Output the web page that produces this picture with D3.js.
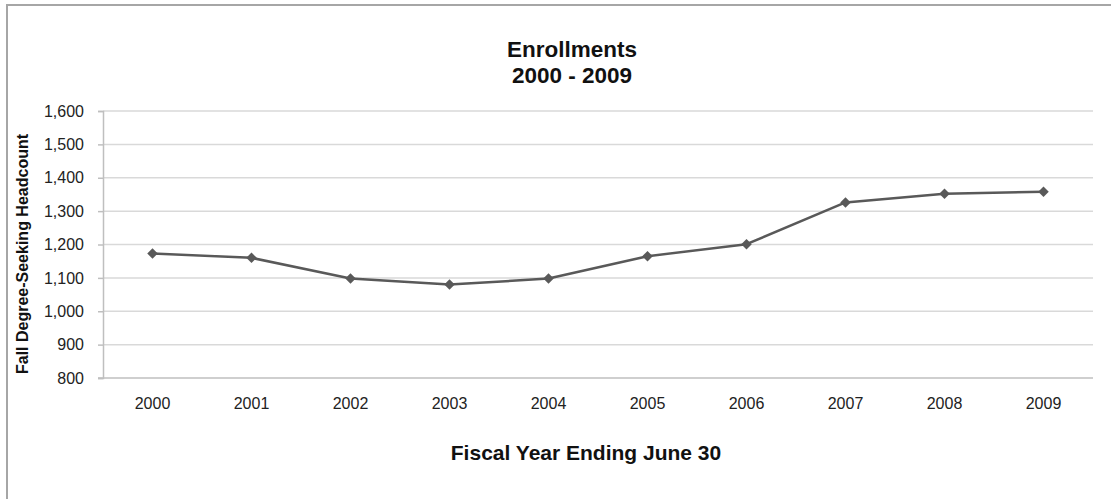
<!DOCTYPE html>
<html>
<head>
<meta charset="utf-8">
<script src="https://cdn.jsdelivr.net/npm/d3@7/dist/d3.min.js"></script>
<style>
  html, body { margin: 0; padding: 0; background: #fff; }
  svg { display: block; }
  text { font-family: "Liberation Sans", Arial, sans-serif; }
</style>
</head>
<body>
<svg id="chart" width="1111" height="499"></svg>
<script>
const years = ["2000","2001","2002","2003","2004","2005","2006","2007","2008","2009"];
const headcount = [1173, 1160, 1098, 1080, 1098, 1165, 1201, 1326, 1352, 1358];
const yTicks = [800, 900, 1000, 1100, 1200, 1300, 1400, 1500, 1600];
const titleLines = ["Enrollments", "2000 - 2009"];
const xTitle = "Fiscal Year Ending June 30";
const yTitle = "Fall Degree-Seeking Headcount";

const svg = d3.select("#chart");

// chart border (extends beyond right/bottom edge)
svg.append("rect")
  .attr("x", 7).attr("y", 5)
  .attr("width", 1140).attr("height", 520)
  .attr("fill", "#fff").attr("stroke", "#a6a6a6").attr("stroke-width", 2);

const pLeft = 103, pRight = 1093, pTop = 111, pBottom = 378;

const x = d3.scaleBand().domain(years).range([pLeft, pRight]);
const y = d3.scaleLinear().domain([800, 1600]).range([pBottom, pTop]);

// gridlines
svg.append("g").selectAll("line").data(yTicks.filter(d => d > 800)).join("line")
  .attr("x1", pLeft).attr("x2", pRight)
  .attr("y1", d => y(d)).attr("y2", d => y(d))
  .attr("stroke", "#d9d9d9").attr("stroke-width", 1.5);

// y axis
const yAxis = svg.append("g").attr("transform", `translate(${pLeft},0)`)
  .call(d3.axisLeft(y).tickValues(yTicks).tickSize(5).tickPadding(14).tickFormat(d3.format(",")));
yAxis.select(".domain").attr("stroke", "#bfbfbf").attr("stroke-width", 1.5);
yAxis.selectAll(".tick line").attr("stroke", "#bfbfbf").attr("stroke-width", 1.5);
yAxis.selectAll("text").attr("font-size", 16).attr("fill", "#222")
  .attr("font-family", "Liberation Sans, Arial, sans-serif");

// x axis
const xAxis = svg.append("g").attr("transform", `translate(0,${pBottom})`)
  .call(d3.axisBottom(x).tickSize(0).tickPadding(20));
xAxis.select(".domain").attr("stroke", "#bfbfbf").attr("stroke-width", 1.5)
  .attr("d", `M${pLeft - 5},0H${pRight}`);
xAxis.selectAll("text").attr("font-size", 16).attr("fill", "#222")
  .attr("font-family", "Liberation Sans, Arial, sans-serif");

// line
const pts = years.map((yr, i) => ({ yr, v: headcount[i] }));
const line = d3.line().x(d => x(d.yr) + x.bandwidth() / 2).y(d => y(d.v));
svg.append("path").datum(pts)
  .attr("d", line).attr("fill", "none")
  .attr("stroke", "#595959").attr("stroke-width", 2.5).attr("stroke-linejoin", "round");

// diamond markers
svg.append("g").selectAll("path").data(pts).join("path")
  .attr("d", d3.symbol().type(d3.symbolDiamond2).size(70))
  .attr("transform", d => `translate(${x(d.yr) + x.bandwidth() / 2},${y(d.v)})`)
  .attr("fill", "#595959");

// title
svg.append("text")
  .attr("text-anchor", "middle")
  .attr("font-size", 22.5).attr("font-weight", "bold").attr("fill", "#111")
  .selectAll("tspan").data(titleLines).join("tspan")
  .attr("x", 572).attr("y", (d, i) => 57 + i * 26)
  .text(d => d);

// x title
svg.append("text")
  .attr("x", 586).attr("y", 460).attr("text-anchor", "middle")
  .attr("font-size", 21).attr("font-weight", "bold").attr("fill", "#111")
  .text(xTitle);

// y title
svg.append("text")
  .attr("transform", `translate(28,254) rotate(-90)`)
  .attr("text-anchor", "middle")
  .attr("font-size", 16).attr("font-weight", "bold").attr("fill", "#111")
  .text(yTitle);
</script>
</body>
</html>
